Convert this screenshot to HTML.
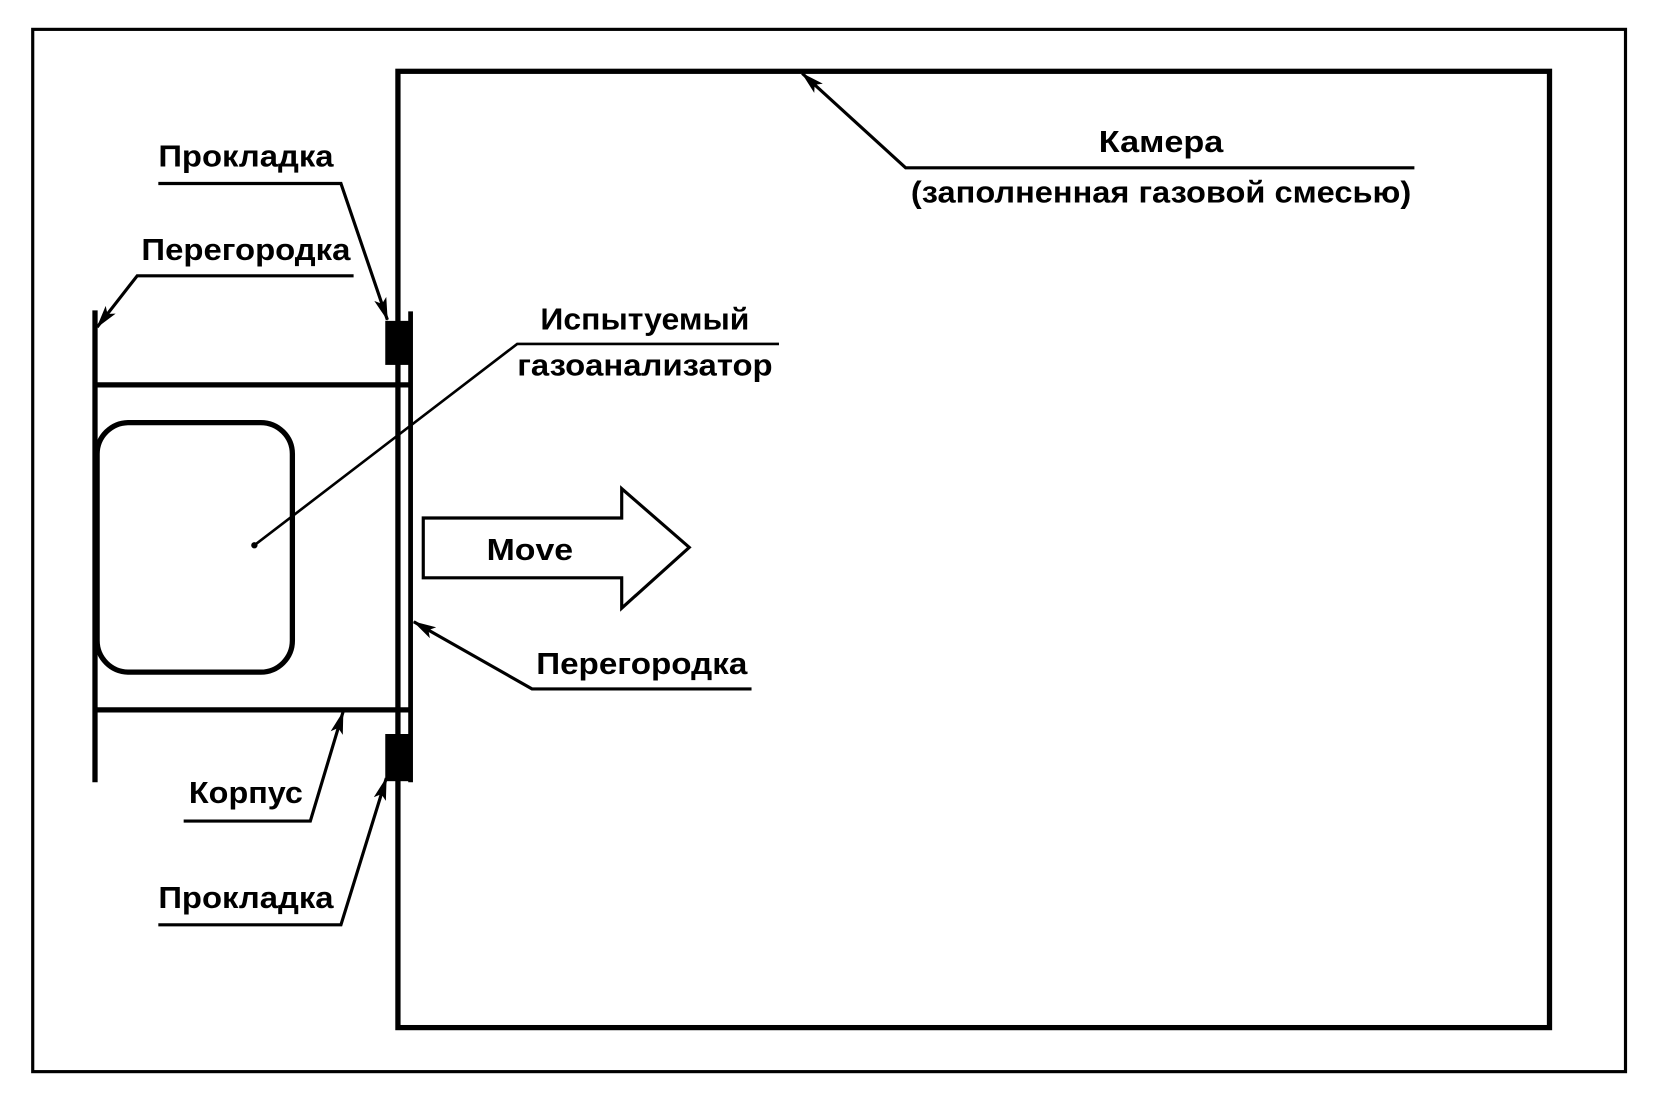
<!DOCTYPE html>
<html><head><meta charset="utf-8"><style>
html,body{margin:0;padding:0;background:#fff;}
svg{display:block;}
text{font-family:"Liberation Sans","Noto Sans CJK SC",sans-serif;font-size:29px;font-weight:bold;fill:#000;}
</style></head><body>
<svg width="1654" height="1101" viewBox="0 0 1567 1050" preserveAspectRatio="none" xmlns="http://www.w3.org/2000/svg">
<defs>
<marker id="b" markerWidth="22" markerHeight="12" refX="21" refY="6" orient="auto" markerUnits="userSpaceOnUse" viewBox="0 0 22 12">
<path d="M0,0 L22,6 L0,12 L5,6 Z" fill="#000"/>
</marker>
</defs>
<rect x="31" y="28" width="1509" height="994" fill="none" stroke="#000" stroke-width="3"/>
<rect x="377" y="68" width="1091" height="912" fill="none" stroke="#000" stroke-width="5"/>
<line x1="90" y1="296" x2="90" y2="746" stroke="#000" stroke-width="5"/>
<line x1="389" y1="297" x2="389" y2="746" stroke="#000" stroke-width="4.5"/>
<rect x="365" y="306" width="23" height="42" fill="#000"/>
<rect x="365" y="700" width="23" height="45" fill="#000"/>
<line x1="90" y1="367" x2="389" y2="367" stroke="#000" stroke-width="5"/>
<line x1="90" y1="677" x2="389" y2="677" stroke="#000" stroke-width="5"/>
<rect x="92" y="403" width="185" height="238" rx="30" ry="30" fill="none" stroke="#000" stroke-width="5"/>
<circle cx="241" cy="520" r="3" fill="#000"/>
<polyline points="241,520 490,328 738,328" fill="none" stroke="#000" stroke-width="2.5"/>
<text x="611" y="314" text-anchor="middle" textLength="198" lengthAdjust="spacingAndGlyphs">Испытуемый</text>
<text x="611" y="358" text-anchor="middle" textLength="242" lengthAdjust="spacingAndGlyphs">газоанализатор</text>
<polygon points="401,494 589,494 589,466 653,522 589,580 589,551 401,551" fill="#fff" stroke="#000" stroke-width="3"/>
<text x="502" y="534" text-anchor="middle" textLength="82" lengthAdjust="spacingAndGlyphs">Move</text>
<polyline points="1340,160 858,160 760,70" fill="none" stroke="#000" stroke-width="3" marker-end="url(#b)"/>
<text x="1100" y="145" text-anchor="middle" textLength="118" lengthAdjust="spacingAndGlyphs">Камера</text>
<text x="1100" y="193" text-anchor="middle" textLength="474" lengthAdjust="spacingAndGlyphs">(заполненная газовой смесью)</text>
<text x="233" y="159" text-anchor="middle" textLength="166" lengthAdjust="spacingAndGlyphs">Прокладка</text>
<polyline points="150,175 323,175 367,305" fill="none" stroke="#000" stroke-width="3" marker-end="url(#b)"/>
<text x="233" y="248" text-anchor="middle" textLength="198" lengthAdjust="spacingAndGlyphs">Перегородка</text>
<polyline points="335,263 130,263 92,312" fill="none" stroke="#000" stroke-width="3" marker-end="url(#b)"/>
<text x="608" y="643" text-anchor="middle" textLength="200" lengthAdjust="spacingAndGlyphs">Перегородка</text>
<polyline points="712,657 504,657 392,593" fill="none" stroke="#000" stroke-width="3" marker-end="url(#b)"/>
<text x="233" y="766" text-anchor="middle" textLength="108" lengthAdjust="spacingAndGlyphs">Корпус</text>
<polyline points="174,783 294,783 325,679" fill="none" stroke="#000" stroke-width="3" marker-end="url(#b)"/>
<text x="233" y="866" text-anchor="middle" textLength="166" lengthAdjust="spacingAndGlyphs">Прокладка</text>
<polyline points="150,882 323,882 366,742" fill="none" stroke="#000" stroke-width="3" marker-end="url(#b)"/>
</svg>
</body></html>
